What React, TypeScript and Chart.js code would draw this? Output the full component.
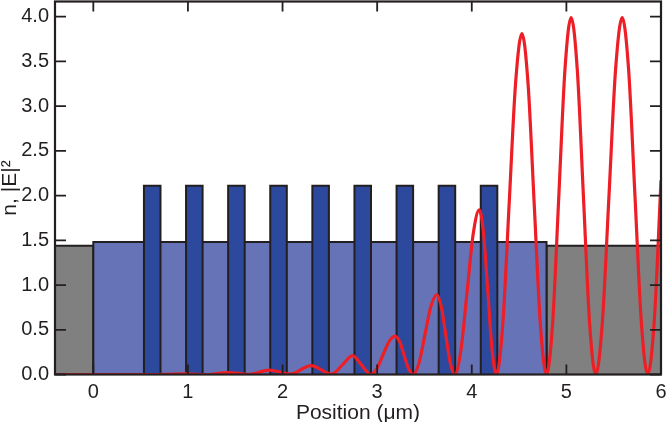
import React, { useEffect, useRef } from "react";
import { Chart, registerables } from "chart.js";

Chart.register(...registerables);

// Axis ranges and tick labels
const X_MIN = -0.405;
const X_MAX = 6.0;
const Y_MIN = 0;
const Y_MAX = 4.17;
const xTicks = [0, 1, 2, 3, 4, 5, 6];
const yTicks = [0, 0.5, 1, 1.5, 2, 2.5, 3, 3.5, 4];

// Refractive index profile
const claddingIndex = 1.44;
const leftCladding = [-0.405, 0];
const rightCladding = [4.79, 6.1];
const gratingRegion = [0, 4.79];
const gratingIndex = 1.48;
const ridgeLefts = [0.535, 0.98, 1.425, 1.87, 2.315, 2.76, 3.205, 3.65, 4.095];
const ridgeWidth = 0.175;
const ridgeIndex = 2.11;

// |E|^2 field intensity
const fieldX = [
  -0.405, 0.6, 0.98, 1.2, 1.42, 1.64, 1.86, 2.08, 2.3, 2.52, 2.63, 2.74, 2.835, 2.93,
  2.995, 3.06, 3.125, 3.19, 3.2375, 3.285, 3.3325, 3.38,
  3.4425, 3.505, 3.5675, 3.63, 3.6775, 3.725, 3.7725, 3.82,
  3.885, 3.95, 4.015, 4.08, 4.125, 4.17, 4.215, 4.26,
  4.3275, 4.395, 4.4625, 4.53, 4.595, 4.66, 4.725, 4.79,
  4.855, 4.92, 4.985, 5.05, 5.115, 5.18, 5.245, 5.31,
  5.38, 5.45, 5.52, 5.59, 5.6575, 5.725, 5.7925, 5.86,
  5.93, 6.0,
];
const fieldY = [
  0, 0, 0.006, 0, 0.022, 0.002, 0.05, 0.004, 0.1, 0.005, 0.105, 0.21, 0.105, 0,
  0.063, 0.215, 0.367, 0.43, 0.367, 0.215, 0.063, 0,
  0.13, 0.445, 0.76, 0.89, 0.76, 0.445, 0.13, 0,
  0.27, 0.92, 1.57, 1.84, 1.57, 0.92, 0.27, 0,
  0.56, 1.905, 3.25, 3.81, 3.25, 1.905, 0.56, 0,
  0.58, 1.995, 3.41, 3.99, 3.41, 1.995, 0.58, 0,
  0.58, 1.995, 3.41, 3.99, 3.41, 1.995, 0.58, 0,
  0.62, 2.17,
];

const EDGE = "#231f20";
const GREY = "rgb(128,128,128)";
const LIGHT_BLUE = "rgb(102,116,183)";
const DARK_BLUE = "rgb(45,73,158)";
const RED = "rgb(237,30,38)";
const FONT = "'Liberation Sans', Arial, sans-serif";

const framePlugin = {
  id: "frameTicks",
  afterDraw(chart: any) {
    const { ctx, chartArea: a, scales } = chart;
    ctx.save();
    ctx.strokeStyle = EDGE;
    ctx.lineWidth = 1.8;
    ctx.beginPath();
    for (const v of xTicks) {
      const px = scales.x.getPixelForValue(v);
      ctx.moveTo(px, a.bottom);
      ctx.lineTo(px, a.bottom - 10);
      ctx.moveTo(px, a.top);
      ctx.lineTo(px, a.top + 10);
    }
    for (const v of yTicks) {
      const py = scales.y.getPixelForValue(v);
      ctx.moveTo(a.left, py);
      ctx.lineTo(a.left + 11, py);
      ctx.moveTo(a.right, py);
      ctx.lineTo(a.right - 11, py);
    }
    ctx.stroke();
    ctx.lineWidth = 2.2;
    ctx.strokeRect(a.left, a.top, a.right - a.left, a.bottom - a.top);
    ctx.restore();
  },
};

export default function App() {
  const canvasRef = useRef<HTMLCanvasElement | null>(null);

  useEffect(() => {
    document.body.style.margin = "0";
    const canvas = canvasRef.current;
    if (!canvas) return;

    const regionStyle = {
      pointRadius: 0,
      borderColor: EDGE,
      borderWidth: 2,
      tension: 0,
      fill: "origin",
      borderJoinStyle: "miter",
      borderCapStyle: "butt",
    };

    const ridgeSets = ridgeLefts.map((l) => ({
      ...regionStyle,
      order: 1,
      backgroundColor: DARK_BLUE,
      data: [
        { x: l, y: 0 },
        { x: l, y: ridgeIndex },
        { x: l + ridgeWidth, y: ridgeIndex },
        { x: l + ridgeWidth, y: 0 },
      ],
    }));

    const chart = new Chart(canvas, {
      type: "line",
      data: {
        datasets: [
          {
            order: 0,
            data: fieldX.map((x, i) => ({ x, y: fieldY[i] })),
            borderColor: RED,
            borderWidth: 3.2,
            pointRadius: 0,
            fill: false,
            cubicInterpolationMode: "monotone",
          } as any,
          ...ridgeSets,
          {
            ...regionStyle,
            order: 2,
            backgroundColor: LIGHT_BLUE,
            data: [
              { x: gratingRegion[0], y: 0 },
              { x: gratingRegion[0], y: gratingIndex },
              { x: gratingRegion[1], y: gratingIndex },
              { x: gratingRegion[1], y: 0 },
            ],
          },
          {
            ...regionStyle,
            order: 3,
            backgroundColor: GREY,
            data: [
              { x: leftCladding[0], y: claddingIndex },
              { x: leftCladding[1], y: claddingIndex },
              { x: leftCladding[1], y: 0 },
            ],
          },
          {
            ...regionStyle,
            order: 3,
            backgroundColor: GREY,
            data: [
              { x: rightCladding[0], y: 0 },
              { x: rightCladding[0], y: claddingIndex },
              { x: rightCladding[1], y: claddingIndex },
            ],
          },
        ] as any,
      },
      options: {
        responsive: false,
        animation: false,
        devicePixelRatio: 1,
        layout: { padding: { top: 1.5, right: 5, left: 0, bottom: 0 } },
        plugins: {
          legend: { display: false },
          tooltip: { enabled: false },
        },
        scales: {
          x: {
            type: "linear",
            min: X_MIN,
            max: X_MAX,
            grid: { display: false, drawTicks: false },
            border: { display: false },
            afterBuildTicks: (s: any) => {
              s.ticks = xTicks.map((v) => ({ value: v }));
            },
            afterFit: (s: any) => {
              s.height = 47.5;
              s.paddingLeft = 0;
              s.paddingRight = 0;
            },
            ticks: {
              padding: 6,
              color: "#231f20",
              font: { family: FONT, size: 20 },
              callback: (v: any) => String(v),
              maxRotation: 0,
              autoSkip: false,
            },
            title: {
              display: true,
              text: "Position (μm)",
              color: "#231f20",
              padding: { top: 0, bottom: 0 },
              font: { family: FONT, size: 21, lineHeight: 0.85 },
            },
          },
          y: {
            type: "linear",
            min: Y_MIN,
            max: Y_MAX,
            grid: { display: false, drawTicks: false },
            border: { display: false },
            afterBuildTicks: (s: any) => {
              s.ticks = yTicks.map((v) => ({ value: v }));
            },
            afterFit: (s: any) => {
              s.width = 55;
              s.paddingTop = 0;
              s.paddingBottom = 0;
            },
            ticks: {
              padding: 6,
              color: "#231f20",
              font: { family: FONT, size: 20 },
              callback: (v: any) => Number(v).toFixed(1),
              autoSkip: false,
            },
            title: {
              display: true,
              text: "n, |E|²",
              color: "#231f20",
              padding: { top: 0, bottom: 0 },
              font: { family: FONT, size: 21, lineHeight: 0.95 },
            },
          },
        },
      } as any,
      plugins: [framePlugin],
    });

    return () => chart.destroy();
  }, []);

  return (
    <div style={{ width: 666, height: 422 }}>
      <canvas ref={canvasRef} width={666} height={422} />
    </div>
  );
}
